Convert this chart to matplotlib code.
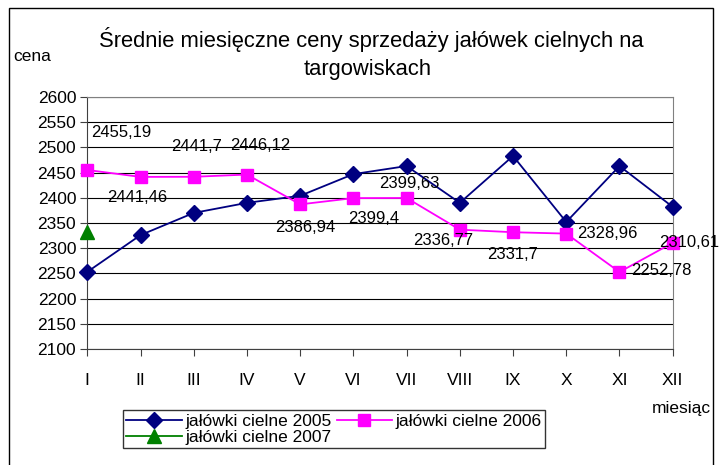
import numpy as np
import matplotlib
matplotlib.use("Agg")
import matplotlib.pyplot as plt
from matplotlib.patches import Rectangle

plt.rcParams['font.family'] = ['Liberation Sans', 'DejaVu Sans']

months = ['I', 'II', 'III', 'IV', 'V', 'VI', 'VII', 'VIII', 'IX', 'X', 'XI', 'XII']
ceny2005 = [2253, 2326, 2370, 2390, 2404, 2447, 2463, 2390, 2483, 2352, 2463, 2382]
ceny2006 = [2455.19, 2441.46, 2441.7, 2446.12, 2386.94, 2399.4, 2399.63, 2336.77,
            2331.7, 2328.96, 2252.78, 2310.61]
ceny2007 = [2333]
etykiety2006 = ['2455,19', '2441,46', '2441,7', '2446,12', '2386,94', '2399,4',
                '2399,63', '2336,77', '2331,7', '2328,96', '2252,78', '2310,61']

# label offsets in pixels (layout only)
offsets = [(34, 37), (-3, -21), (3, 30), (13, 29), (5, -23), (20, -20),
           (3, 14), (-17, -11), (0, -22), (41, 0), (42, 1), (16, 0)]

W, H = 726, 465
fig = plt.figure(figsize=(W / 100, H / 100), dpi=100)
ax = fig.add_axes([87.3 / W, 1 - 349 / H, (672.7 - 87.3) / W, (349 - 97) / H])

# chart area border
fig.patches.append(Rectangle((9 / W, -0.1), (713 - 9) / W, 1.1 - 8 / H,
                             transform=fig.transFigure, fill=False,
                             edgecolor='black', linewidth=1))

x = np.arange(len(months))
ax.plot(x, ceny2005, color='#000080', marker='D', markersize=8.5, linewidth=1.3,
        label='jałówki cielne 2005', zorder=3, clip_on=False)
ax.plot(x, ceny2006, color='#FF00FF', marker='s', markersize=8.5, linewidth=1.3,
        label='jałówki cielne 2006', zorder=3, clip_on=False)
ax.plot(x[:len(ceny2007)], ceny2007, color='#008000', marker='^', markersize=10,
        linewidth=1.3, label='jałówki cielne 2007', zorder=3, clip_on=False)

for xi, v, txt, off in zip(x, ceny2006, etykiety2006, offsets):
    ax.annotate(txt, (xi, v), xytext=off, textcoords='offset pixels',
                ha='center', va='center', fontsize=12, zorder=4,
                annotation_clip=False)

ax.set_xlim(0, 11)
ax.set_ylim(2100, 2600)
ax.set_yticks(np.arange(2100, 2601, 50))
ax.set_xticks(x)
ax.set_xticklabels(months)
ax.tick_params(axis='both', labelsize=12.5, direction='out', length=5,
               color='#404040')
ax.tick_params(axis='x', pad=12)
ax.tick_params(axis='y', pad=3)
ax.grid(axis='y', color='black', linewidth=0.8)
ax.set_axisbelow(True)
for s in ['top', 'right']:
    ax.spines[s].set_color('#808080')
for s in ['left', 'bottom']:
    ax.spines[s].set_color('#404040')

fig.text(371 / W, 1 - 40 / H, 'Średnie miesięczne ceny sprzedaży jałówek cielnych na',
         ha='center', va='center', fontsize=15.8)
fig.text(368 / W, 1 - 70 / H, 'targowiskach', ha='center', va='center', fontsize=15.8)
fig.text(13 / W, 1 - 56 / H, 'cena', ha='left', va='center', fontsize=12.5)
fig.text(711 / W, 1 - 408 / H, 'miesiąc', ha='right', va='center', fontsize=12.5)

h, l = ax.get_legend_handles_labels()
order = [0, 2, 1]
leg = fig.legend([h[i] for i in order], [l[i] for i in order], ncol=2,
                 loc='upper left', bbox_to_anchor=(122.7 / W, 1 - 410 / H),
                 borderaxespad=0, fontsize=12.5, frameon=True, fancybox=False,
                 edgecolor='black', handlelength=3.2, handletextpad=0.2,
                 columnspacing=0.3, borderpad=0.2, labelspacing=0.05)
leg.get_frame().set_linewidth(1)

fig.savefig('out.png', dpi=100)
